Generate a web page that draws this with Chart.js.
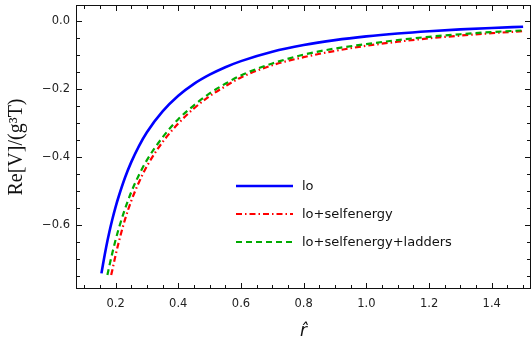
<!DOCTYPE html>
<html>
<head>
<meta charset="utf-8">
<script src="https://cdn.jsdelivr.net/npm/chart.js@4/dist/chart.umd.min.js"></script>
<style>
html,body{margin:0;padding:0;background:#fff;}
canvas{display:block;}
</style>
</head>
<body>
<canvas id="c" width="531" height="340"></canvas>
<script>
// ---- data ----
const seriesLabels = ['lo', 'lo+selfenergy', 'lo+selfenergy+ladders'];

const loR = [0.155, 0.16, 0.17, 0.18, 0.19, 0.20, 0.21, 0.23, 0.25, 0.275, 0.30, 0.35, 0.40, 0.45, 0.50, 0.55, 0.60, 0.70, 0.80, 0.90, 1.00, 1.10, 1.20, 1.30, 1.40, 1.50];
const loV = [-0.743, -0.716, -0.666, -0.622, -0.583, -0.548, -0.517, -0.462, -0.416, -0.368, -0.328, -0.267, -0.221, -0.186, -0.159, -0.137, -0.119, -0.0914, -0.0718, -0.0573, -0.0463, -0.0378, -0.0311, -0.0258, -0.0215, -0.018];

const seR = [0.186, 0.19, 0.20, 0.21, 0.23, 0.25, 0.275, 0.30, 0.35, 0.40, 0.45, 0.50, 0.55, 0.60, 0.70, 0.80, 0.90, 1.00, 1.10, 1.20, 1.30, 1.40, 1.50];
const seV = [-0.748, -0.732, -0.690, -0.652, -0.585, -0.530, -0.4745, -0.428, -0.357, -0.3025, -0.258, -0.222, -0.193, -0.167, -0.131, -0.1075, -0.089, -0.074, -0.062, -0.052, -0.044, -0.037, -0.031];

const ladR = [0.174, 0.18, 0.19, 0.20, 0.21, 0.23, 0.25, 0.275, 0.30, 0.35, 0.40, 0.45, 0.50, 0.55, 0.60, 0.70, 0.80, 0.90, 1.00, 1.10, 1.20, 1.30, 1.40, 1.50];
const ladV = [-0.748, -0.722, -0.682, -0.645, -0.612, -0.554, -0.504, -0.453, -0.410, -0.343, -0.290, -0.249, -0.214, -0.1855, -0.161, -0.126, -0.100, -0.082, -0.069, -0.057, -0.0475, -0.040, -0.0336, -0.0287];

const xTickVals = [0.2, 0.4, 0.6, 0.8, 1.0, 1.2, 1.4];
const xTickLabels = ['0.2', '0.4', '0.6', '0.8', '1.0', '1.2', '1.4'];
const yTickVals = [0.0, -0.2, -0.4, -0.6];
const yTickLabels = ['0.0', '\u22120.2', '\u22120.4', '\u22120.6'];

const xRange = [0.077, 1.522];
const yRange = [-0.786, 0.043];
const minorStep = 0.05;

function pts(rs, vs){ return rs.map((r,i)=>({x:r, y:vs[i]})); }

// ---- plugins ----
const framePlugin = {
  id: 'frame',
  afterDraw(chart){
    const ctx = chart.ctx, a = chart.chartArea;
    const xs = chart.scales.x, ys = chart.scales.y;
    ctx.save();
    ctx.strokeStyle = '#111';
    ctx.lineWidth = 1;
    ctx.strokeRect(a.left-0.5, a.top-0.5, a.right-a.left+1, a.bottom-a.top+1);
    const isMajor = (v, list) => list.some(t => Math.abs(t - v) < 1e-6);
    ctx.beginPath();
    for (let k = Math.ceil(xRange[0]/minorStep); k*minorStep <= xRange[1]+1e-9; k++){
      const v = +(k*minorStep).toFixed(4);
      const L = isMajor(v, xTickVals) ? 5 : 3;
      const px = Math.round(xs.getPixelForValue(v)) + 0.5;
      ctx.moveTo(px, a.bottom); ctx.lineTo(px, a.bottom - L);
      ctx.moveTo(px, a.top); ctx.lineTo(px, a.top + L);
    }
    for (let k = Math.ceil(yRange[0]/minorStep); k*minorStep <= yRange[1]+1e-9; k++){
      const v = +(k*minorStep).toFixed(4);
      const L = isMajor(v, yTickVals) ? 5 : 3;
      const py = Math.round(ys.getPixelForValue(v)) + 0.5;
      ctx.moveTo(a.left, py); ctx.lineTo(a.left + L, py);
      ctx.moveTo(a.right, py); ctx.lineTo(a.right - L, py);
    }
    ctx.stroke();
    ctx.restore();
  }
};

const legendPlugin = {
  id: 'innerLegend',
  afterDraw(chart, args, opts){
    const ctx = chart.ctx, a = chart.chartArea;
    ctx.save();
    ctx.font = '13px "DejaVu Sans"';
    ctx.textBaseline = 'middle';
    chart.data.datasets.forEach((ds, i) => {
      const y = a.top + opts.top + i*opts.rowGap;
      const x0 = a.left + opts.left;
      ctx.beginPath();
      ctx.strokeStyle = ds.borderColor;
      ctx.lineWidth = ds.borderWidth;
      ctx.setLineDash(ds.borderDash || []);
      ctx.moveTo(x0, y); ctx.lineTo(x0 + opts.lineLen, y);
      ctx.stroke();
      ctx.setLineDash([]);
      ctx.fillStyle = '#111';
      ctx.fillText(ds.label, x0 + opts.lineLen + opts.textGap, y + 0.5);
    });
    ctx.restore();
  }
};

new Chart(document.getElementById('c'), {
  type: 'line',
  data: {
    datasets: [
      { label: seriesLabels[0], data: pts(loR, loV), borderColor: '#0000ff', borderWidth: 2.6, order: 2 },
      { label: seriesLabels[1], data: pts(seR, seV), borderColor: '#ff0000', borderWidth: 2.2, borderDash: [6, 3, 1.5, 3], order: 1 },
      { label: seriesLabels[2], data: pts(ladR, ladV), borderColor: '#00aa00', borderWidth: 2.2, borderDash: [6, 4], order: 0 }
    ]
  },
  options: {
    responsive: false,
    devicePixelRatio: 1,
    animation: false,
    layout: { padding: { top: 6, right: 1, left: 0, bottom: 0 } },
    elements: {
      point: { radius: 0 },
      line: { cubicInterpolationMode: 'monotone', fill: false, borderCapStyle: 'butt' }
    },
    plugins: {
      legend: { display: false },
      tooltip: { enabled: false },
      innerLegend: { left: 159, top: 180, rowGap: 28, lineLen: 57, textGap: 9 }
    },
    scales: {
      x: {
        type: 'linear', position: 'bottom',
        min: xRange[0], max: xRange[1],
        grid: { display: false, drawTicks: false },
        border: { display: false },
        afterBuildTicks(s){ s.ticks = xTickVals.map(v => ({ value: v })); },
        afterFit(s){ s.height = 52; s.paddingLeft = 0; s.paddingRight = 0; },
        ticks: {
          padding: 9, color: '#222', font: { family: 'DejaVu Sans', size: 11.5 },
          maxRotation: 0, autoSkip: false,
          callback(v, i){ return xTickLabels[i]; }
        },
        title: { display: true, text: 'r\u0302', color: '#111',
          font: { family: 'DejaVu Sans', style: 'italic', size: 17 }, padding: { top: 0, bottom: -2 } }
      },
      y: {
        type: 'linear', position: 'left',
        min: yRange[0], max: yRange[1],
        grid: { display: false, drawTicks: false },
        border: { display: false },
        afterBuildTicks(s){ s.ticks = yTickVals.map(v => ({ value: v })); },
        afterFit(s){ s.width = 77; s.paddingTop = 0; s.paddingBottom = 0; },
        ticks: {
          padding: 7, color: '#222', font: { family: 'DejaVu Sans', size: 11.5 },
          autoSkip: false,
          callback(v, i){ return yTickLabels[i]; }
        },
        title: { display: true, text: 'Re[V]/(g\u00b3T)', color: '#111',
          font: { family: 'Liberation Serif', size: 20 }, padding: { top: 5, bottom: 0 } }
      }
    }
  },
  plugins: [framePlugin, legendPlugin]
});
</script>
</body>
</html>
